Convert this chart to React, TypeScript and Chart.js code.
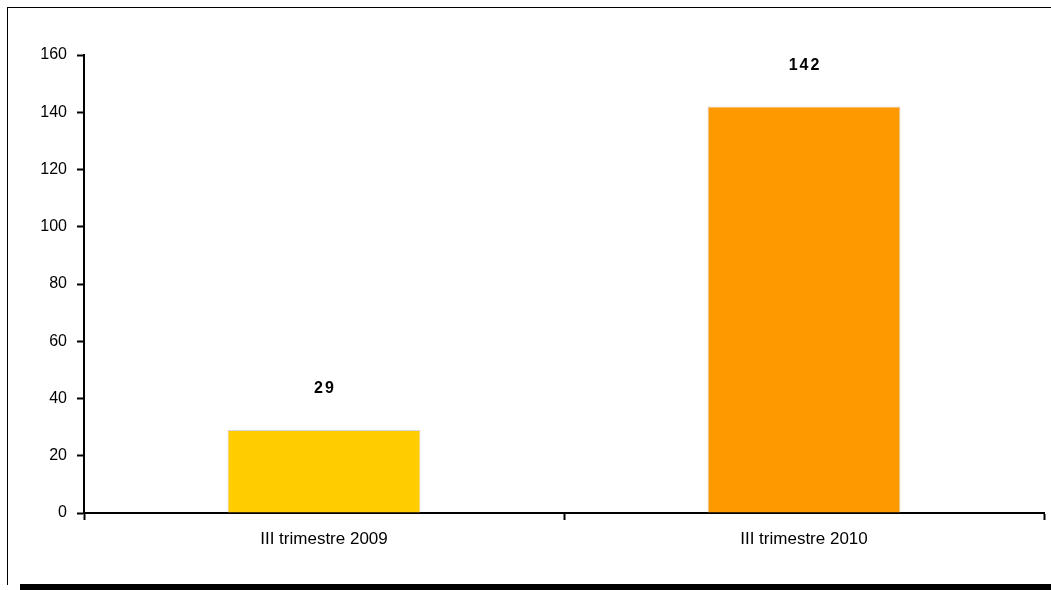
import React, { useEffect, useRef } from "react";
import { Chart, registerables } from "chart.js";

Chart.register(...registerables);

const categories = ["III trimestre 2009", "III trimestre 2010"];
const values = [29, 142];
const barColors = ["#FFCC00", "#FF9900"];
const yTicks = [0, 20, 40, 60, 80, 100, 120, 140, 160];

const W = 1051;
const H = 590;

const valueLabels = {
  id: "valueLabels",
  afterDatasetsDraw(chart: any) {
    const ctx = chart.ctx;
    const meta = chart.getDatasetMeta(0);
    ctx.save();
    ctx.fillStyle = "#000";
    ctx.font = "bold 16px 'Liberation Sans', Arial, sans-serif";
    ctx.textBaseline = "middle";
    ctx.textAlign = "left";
    const spacing = 2;
    meta.data.forEach((bar: any, i: number) => {
      const text = String(values[i]);
      const chars = text.split("");
      const widths = chars.map((c) => ctx.measureText(c).width);
      const total = widths.reduce((a, b) => a + b, 0) + spacing * (chars.length - 1);
      let x = bar.x - total / 2;
      const y = bar.y - 41;
      chars.forEach((c, k) => {
        ctx.fillText(c, x, y);
        x += widths[k] + spacing;
      });
    });
    ctx.restore();
  },
};

export default function App() {
  const ref = useRef<HTMLCanvasElement>(null);
  useEffect(() => {
    if (!ref.current) return;
    const chart = new Chart(ref.current, {
      type: "bar",
      data: {
        labels: categories,
        datasets: [
          {
            data: values,
            backgroundColor: barColors,
            borderColor: "#d4d4d4",
            borderWidth: 1,
            barPercentage: 0.402,
            categoryPercentage: 1,
          },
        ],
      },
      options: {
        responsive: false,
        animation: false,
        devicePixelRatio: 1,
        layout: { padding: { left: 0, top: 55, right: 7, bottom: 0 } },
        plugins: {
          legend: { display: false },
          tooltip: { enabled: false },
        },
        scales: {
          x: {
            afterFit: (s: any) => {
              s.height = 77;
            },
            grid: {
              offset: true,
              drawOnChartArea: false,
              drawTicks: true,
              tickLength: 7,
              tickColor: "#000",
              tickWidth: 2,
            },
            border: { display: true, color: "#000", width: 2 },
            ticks: {
              color: "#000",
              padding: 9,
              font: { family: "'Liberation Sans', Arial, sans-serif", size: 17 },
            },
          },
          y: {
            min: 0,
            max: 160,
            afterFit: (s: any) => {
              s.width = 84;
            },
            afterBuildTicks: (s: any) => {
              s.ticks = yTicks.map((v) => ({ value: v }));
            },
            grid: {
              drawOnChartArea: false,
              drawTicks: true,
              tickLength: 7,
              tickColor: "#000",
              tickWidth: 2,
            },
            border: { display: true, color: "#000", width: 2 },
            ticks: {
              color: "#000",
              padding: 10,
              font: { family: "'Liberation Sans', Arial, sans-serif", size: 16 },
            },
          },
        },
      },
      plugins: [valueLabels],
    });
    return () => chart.destroy();
  }, []);

  return (
    <div>
      <div
        style={{
          position: "fixed",
          left: 7,
          top: 7,
          width: W,
          height: 578,
          borderTop: "1.5px solid #000",
          borderLeft: "1.5px solid #000",
          boxSizing: "border-box",
        }}
      />
      <div
        style={{
          position: "fixed",
          left: 20,
          top: 584,
          width: W - 20,
          height: 6,
          background: "#000",
        }}
      />
      <canvas
        ref={ref}
        width={W}
        height={H}
        style={{ position: "fixed", left: 0, top: 0, width: W, height: H }}
      />
    </div>
  );
}
